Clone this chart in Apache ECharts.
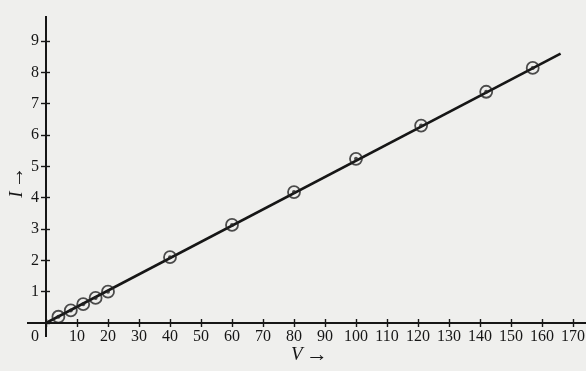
<!DOCTYPE html>
<html><head><meta charset="utf-8">
<script src="https://cdn.jsdelivr.net/npm/echarts@6/dist/echarts.min.js"></script>
<style>html,body{margin:0;padding:0;background:#efefed}#c{width:586px;height:371px}</style>
</head><body><div id="c"></div>
<script>
// Data (V in volts, I in amperes)
const voltage = [4, 8, 12, 16, 20, 40, 60, 80, 100, 121, 142, 157];
const current = [0.2, 0.4, 0.6, 0.8, 1.0, 2.1, 3.13, 4.18, 5.24, 6.3, 7.38, 8.14];
// Straight best-fit line through the origin
const fitV = [0, 166];
const fitI = [0, 8.6];
// Axis ranges / tick steps
const xRange = [0, 170], xStep = 10;
const yRange = [0, 9], yStep = 1;

const ink = '#161616';
const font = 'Liberation Serif';
const chart = echarts.init(document.getElementById('c'), null, {renderer: 'canvas'});

const pts = voltage.map((v, i) => [v, current[i]]);
const fit = fitV.map((v, i) => [v, fitI[i]]);

const baseX = {
  type: 'value', min: xRange[0], max: xRange[1], interval: xStep, position: 'bottom',
  splitLine: {show: false}, axisLine: {show: false}
};
const baseY = {
  type: 'value', min: yRange[0], max: yRange[1], interval: yStep, position: 'left',
  splitLine: {show: false}, axisLine: {show: false}
};

chart.setOption({
  backgroundColor: '#efefed',
  animation: false,
  grid: {left: 46, right: 13, top: 41, bottom: 48, containLabel: false, outerBoundsMode: 'none'},
  xAxis: [
    Object.assign({}, baseX, {
      axisTick: {show: true, inside: false, length: 4, lineStyle: {color: ink, width: 1.4}},
      axisLabel: {
        margin: 6, color: ink, fontFamily: font, fontSize: 16, hideOverlap: false,
        formatter: v => v === 0 ? '{z|0}' : String(v),
        rich: {z: {padding: [0, 22, 0, 0], fontFamily: font, fontSize: 16, color: ink}}
      },
      name: '{i|V} {a|→}', nameLocation: 'middle', nameGap: 21, nameMoveOverlap: false,
      nameTextStyle: {rich: {
        i: {fontFamily: font, fontStyle: 'italic', fontSize: 19, color: ink},
        a: {fontFamily: font, fontSize: 22, color: ink}
      }}
    }),
    Object.assign({}, baseX, {
      axisTick: {show: true, inside: true, length: 4, lineStyle: {color: ink, width: 1.4}},
      axisLabel: {show: false}
    })
  ],
  yAxis: [
    Object.assign({}, baseY, {
      axisTick: {show: true, inside: false, length: 5, lineStyle: {color: ink, width: 1.4}},
      axisLabel: {margin: 7, color: ink, fontFamily: font, fontSize: 16, showMinLabel: false},
      name: '{i|I} {a|→}', nameLocation: 'middle', nameGap: 18, nameRotate: 90, nameMoveOverlap: false,
      nameTextStyle: {rich: {
        i: {fontFamily: font, fontStyle: 'italic', fontSize: 19, color: ink},
        a: {fontFamily: font, fontSize: 22, color: ink}
      }}
    }),
    Object.assign({}, baseY, {
      axisTick: {show: true, inside: true, length: 4, lineStyle: {color: ink, width: 1.4}},
      axisLabel: {show: false}
    })
  ],
  series: [
    {type: 'line', data: fit, symbol: 'none', lineStyle: {color: ink, width: 2.6}, z: 2, clip: false},
    {type: 'scatter', data: pts, symbol: 'circle', symbolSize: 12, z: 3,
     itemStyle: {color: 'rgba(0,0,0,0)', borderColor: '#222', borderWidth: 1.8}},
    {type: 'scatter', data: pts, symbol: 'circle', symbolSize: 4, z: 4,
     itemStyle: {color: '#222'}}
  ]
});

// Extended axis lines, placed from the axis scales
const o = chart.convertToPixel({gridIndex: 0}, [0, 0]);
chart.setOption({
  graphic: [
    {type: 'line', shape: {x1: 27, y1: o[1], x2: 586, y2: o[1]}, style: {stroke: ink, lineWidth: 2}, z: 10},
    {type: 'line', shape: {x1: o[0], y1: 16, x2: o[0], y2: 337}, style: {stroke: ink, lineWidth: 2}, z: 10}
  ]
});
</script></body></html>
